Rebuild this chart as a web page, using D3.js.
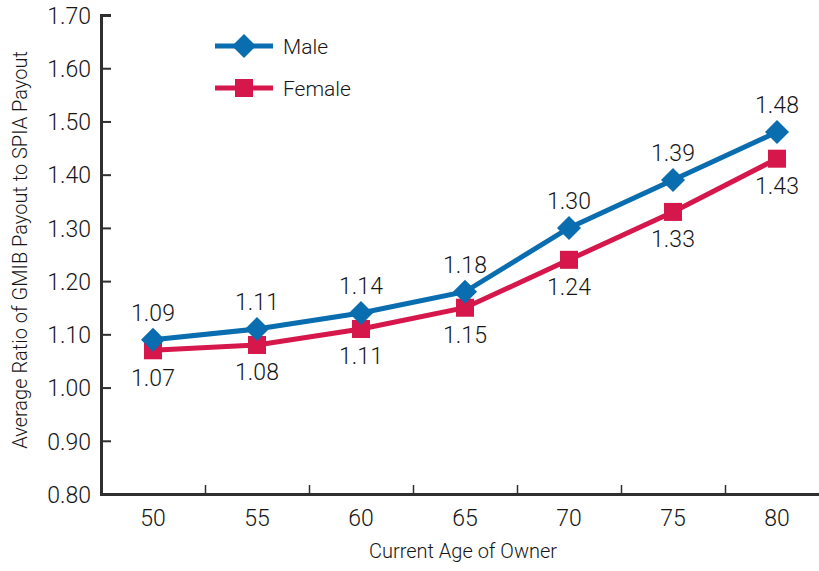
<!DOCTYPE html>
<html>
<head>
<meta charset="utf-8">
<script src="https://cdn.jsdelivr.net/npm/d3@7"></script>
<style>
  body { margin: 0; background: #fff; }
  text { font-family: "Roboto", "Liberation Sans", sans-serif; font-weight: 300; fill: #161616; }
</style>
</head>
<body>
<svg width="819" height="571"></svg>
<script>
// chart data
const ages = ["50", "55", "60", "65", "70", "75", "80"];
const maleValues = [1.09, 1.11, 1.14, 1.18, 1.30, 1.39, 1.48];
const femaleValues = [1.07, 1.08, 1.11, 1.15, 1.24, 1.33, 1.43];
const yTicks = [0.8, 0.9, 1.0, 1.1, 1.2, 1.3, 1.4, 1.5, 1.6, 1.7];

const svg = d3.select("svg");
const blue = "#0a6db0";
const red = "#d6174b";
const axisColor = "#2f2f2f";

// plot area
const plot = { left: 101, right: 829, top: 15, bottom: 494 };

const xScale = d3.scaleBand().domain(ages).range([plot.left, plot.right]).padding(0);
const xPos = (a) => xScale(a) + xScale.bandwidth() / 2;
const yScale = d3.scaleLinear().domain([0.8, 1.7]).range([plot.bottom, plot.top]);

// y axis with inward ticks
const yAxisG = svg.append("g")
  .attr("transform", `translate(${plot.left},0)`)
  .call(d3.axisLeft(yScale).tickValues(yTicks).tickSize(-10).tickPadding(20)
    .tickFormat(d3.format(".2f")));
yAxisG.select(".domain").attr("stroke", axisColor).attr("stroke-width", 3);
yAxisG.selectAll(".tick line").attr("stroke", axisColor).attr("stroke-width", 2);
yAxisG.selectAll(".tick text").attr("font-size", 23).attr("x", -10).attr("dy", "0.36em");

// x axis line + boundary ticks between categories
const xEdge = d3.scaleLinear().domain([0, ages.length]).range([plot.left, plot.right]);
const xTickG = svg.append("g")
  .attr("transform", `translate(0,${plot.bottom})`)
  .call(d3.axisBottom(xEdge).tickValues(d3.range(1, ages.length)).tickSize(-9).tickFormat(""));
xTickG.select(".domain").attr("stroke", axisColor).attr("stroke-width", 3);
xTickG.selectAll(".tick line").attr("stroke", axisColor).attr("stroke-width", 1.5);

// x category labels
const xAxisG = svg.append("g")
  .attr("transform", `translate(0,${plot.bottom})`)
  .call(d3.axisBottom(xScale).tickSize(0).tickPadding(16));
xAxisG.select(".domain").remove();
xAxisG.selectAll(".tick text").attr("font-size", 23);

// axis titles
svg.append("text")
  .attr("x", 463).attr("y", 558)
  .attr("text-anchor", "middle")
  .attr("font-size", 20)
  .text("Current Age of Owner");

svg.append("text")
  .attr("transform", "translate(27,250) rotate(-90)")
  .attr("text-anchor", "middle")
  .attr("font-size", 20)
  .text("Average Ratio of GMIB Payout to SPIA Payout");

const line = d3.line().x((d, i) => xPos(ages[i])).y((d) => yScale(d));

// female series
svg.append("path").datum(femaleValues)
  .attr("d", line).attr("fill", "none").attr("stroke", red).attr("stroke-width", 5);
svg.selectAll(".fmark").data(femaleValues).enter().append("rect")
  .attr("class", "fmark")
  .attr("x", (d, i) => xPos(ages[i]) - 9)
  .attr("y", (d) => yScale(d) - 9)
  .attr("width", 18).attr("height", 18)
  .attr("fill", red);

// male series
svg.append("path").datum(maleValues)
  .attr("d", line).attr("fill", "none").attr("stroke", blue).attr("stroke-width", 5);
const diamond = "M0,-12L12,0L0,12L-12,0Z";
svg.selectAll(".mmark").data(maleValues).enter().append("path")
  .attr("class", "mmark")
  .attr("transform", (d, i) => `translate(${xPos(ages[i])},${yScale(d)})`)
  .attr("d", diamond)
  .attr("fill", blue);

// value labels
svg.selectAll(".mlabel").data(maleValues).enter().append("text")
  .attr("x", (d, i) => xPos(ages[i]))
  .attr("y", (d) => yScale(d) - 27)
  .attr("dy", "0.36em")
  .attr("text-anchor", "middle")
  .attr("font-size", 23)
  .text((d) => d.toFixed(2));

svg.selectAll(".flabel").data(femaleValues).enter().append("text")
  .attr("x", (d, i) => xPos(ages[i]))
  .attr("y", (d) => yScale(d) + 27)
  .attr("dy", "0.36em")
  .attr("text-anchor", "middle")
  .attr("font-size", 23)
  .text((d) => d.toFixed(2));

// legend
const legend = [
  { name: "Male", color: blue, y: 46, shape: "diamond" },
  { name: "Female", color: red, y: 88, shape: "square" }
];
legend.forEach((l) => {
  svg.append("line")
    .attr("x1", 215).attr("x2", 273).attr("y1", l.y).attr("y2", l.y)
    .attr("stroke", l.color).attr("stroke-width", 5);
  if (l.shape === "diamond") {
    svg.append("path").attr("transform", `translate(244,${l.y})`)
      .attr("d", diamond).attr("fill", l.color);
  } else {
    svg.append("rect").attr("x", 235).attr("y", l.y - 9)
      .attr("width", 18).attr("height", 18).attr("fill", l.color);
  }
  svg.append("text")
    .attr("x", 283).attr("y", l.y).attr("dy", "0.36em")
    .attr("font-size", 21)
    .text(l.name);
});
</script>
</body>
</html>
